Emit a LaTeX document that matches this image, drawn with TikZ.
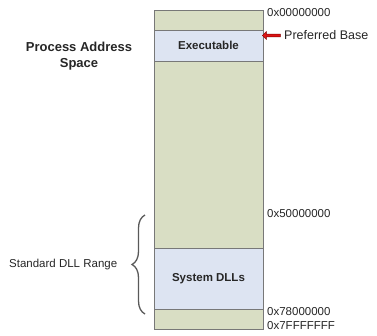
\documentclass[tikz,border=0pt]{standalone}
\usepackage{fontspec}
\setmainfont{Liberation Sans}
\usetikzlibrary{decorations.pathreplacing,shapes.arrows}
\definecolor{olivefill}{RGB}{217,222,196}
\definecolor{bluefill}{RGB}{221,228,242}
\definecolor{edgegray}{RGB}{120,120,120}
\definecolor{arrred}{RGB}{220,20,20}
\tikzset{
  seg/.style={draw=edgegray, line width=1pt},
  addr/.style={anchor=west, inner sep=0pt, font=\fontsize{11.5}{12}\selectfont, text=black!85},
  boxlabel/.style={inner sep=0pt, font=\fontsize{11.5}{12}\selectfont\bfseries, text=black!85},
}
\begin{document}
\begin{tikzpicture}[x=1pt,y=-1pt]
\useasboundingbox (0,0) rectangle (377,335);
% column
\path[seg, fill=olivefill] (154,10) rectangle (263,329);
\path[seg, fill=bluefill] (154,30) rectangle (263,61);
\path[seg, fill=bluefill] (154,248) rectangle (263,309);
\node[boxlabel] (exe) at (208.5,45) {Executable};
\node[boxlabel] (sys) at (208.5,279) {System DLLs};
% address labels
\node[addr] (a0) at (267,13) {0x00000000};
\node[addr] (a5) at (267,214) {0x50000000};
\node[addr] (a78) at (267,312) {0x78000000};
\node[addr] (a7f) at (267,326) {0x7FFFFFFF};
% preferred base
\node[single arrow, shape border rotate=180, fill=arrred, draw=red!50!black, line width=0.4pt,
      minimum height=18pt, minimum width=8pt, single arrow head extend=2pt, inner sep=0.8pt] (arr) at (272,35.5) {};
\node[addr, font=\fontsize{12.5}{14}\selectfont] (pb) at (284,35.5) {Preferred Base};
% title
\node[align=center, inner sep=0pt, font=\fontsize{13}{16}\bfseries\selectfont, text=black!85] (title) at (79,56) {Process Address\\Space};
% brace
\coordinate (bt) at (145,215);
\coordinate (bb) at (145,314);
\draw[black!65, line width=1.3pt, decorate, decoration={brace, amplitude=13pt, aspect=0.5}] (bb) -- (bt);
\node[addr] (sdr) at (9,265) {Standard DLL Range};
\end{tikzpicture}
\end{document}
